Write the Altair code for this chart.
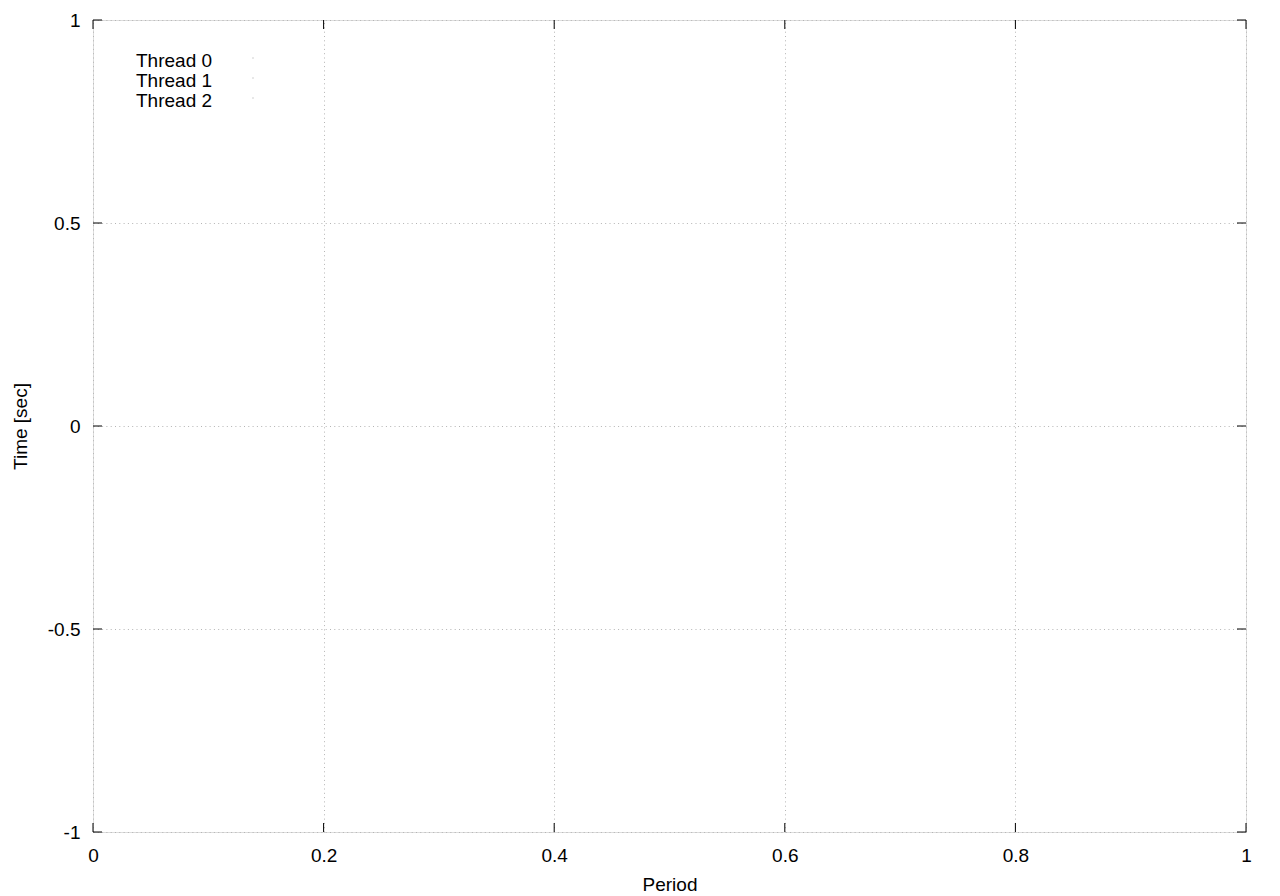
import altair as alt
import pandas as pd

threads = ["Thread 0", "Thread 1", "Thread 2"]
x_ticks = [0, 0.2, 0.4, 0.6, 0.8, 1]
y_ticks = [-1, -0.5, 0, 0.5, 1]

W, H = 1153, 812
FONT = "Liberation Sans"
FS = 19
TL = 9

xs = alt.Scale(domain=[0, 1], nice=False, zero=False)
ys = alt.Scale(domain=[-1, 1], nice=False, zero=False)

xdf = pd.DataFrame({"x": x_ticks})
ydf = pd.DataFrame({"y": y_ticks})
ldf = pd.DataFrame({"name": threads, "i": list(range(len(threads)))})

common = dict(grid=True, gridDash=[1, 3.3], gridColor="#b4b4b4", ticks=False, domain=False,
              labelFont=FONT, labelFontSize=FS, labelColor="black", titleFont=FONT,
              titleFontSize=FS, titleFontWeight="normal", titleColor="black", labelFlush=False,
              labelExpr="'' + datum.value")
xaxis = alt.Axis(values=x_ticks, title="Period", labelPadding=14,
                 titleX=W / 2, titleY=52, titleBaseline="middle", titleAlign="center", **common)
yaxis = alt.Axis(values=y_ticks, title="Time [sec]", labelPadding=13,
                 titleX=-73, titleY=H / 2, titleBaseline="middle", titleAlign="center", titleAngle=270, **common)

grid = alt.Chart(xdf).mark_rule(opacity=0).encode(x=alt.X("x:Q", scale=xs, axis=xaxis))
grid_y = alt.Chart(ydf).mark_rule(opacity=0).encode(y=alt.Y("y:Q", scale=ys, axis=yaxis))

tick_style = dict(color="black", strokeWidth=1)
xb = alt.Chart(xdf).mark_rule(**tick_style).encode(x=alt.X("x:Q", scale=xs), y=alt.value(H), y2=alt.value(H - TL))
xt = alt.Chart(xdf).mark_rule(**tick_style).encode(x=alt.X("x:Q", scale=xs), y=alt.value(0), y2=alt.value(TL))
yl = alt.Chart(ydf).mark_rule(**tick_style).encode(y=alt.Y("y:Q", scale=ys), x=alt.value(0), x2=alt.value(TL))
yr = alt.Chart(ydf).mark_rule(**tick_style).encode(y=alt.Y("y:Q", scale=ys), x=alt.value(W), x2=alt.value(W - TL))

leg_text = alt.Chart(ldf).transform_calculate(py="41 + 20 * datum.i").mark_text(
    align="left", baseline="middle", font=FONT, fontSize=FS, color="black"
).encode(x=alt.value(43), y=alt.Y("py:Q", scale=None), text="name:N")
leg_pt = alt.Chart(ldf).transform_calculate(py="38 + 20 * datum.i").mark_point(
    filled=True, size=2, color="#c0c0c0", opacity=1
).encode(x=alt.value(160), y=alt.Y("py:Q", scale=None))

chart = alt.layer(grid, grid_y, xb, xt, yl, yr, leg_text, leg_pt).properties(
    width=W, height=H,
    padding={"left": 85, "top": 12, "right": 20, "bottom": 64},
    autosize=alt.AutoSizeParams(type="none"),
).configure_view(stroke="black", strokeWidth=1).configure(background="white")

chart.save("out.html", embed_options={"renderer": "svg", "actions": False})
